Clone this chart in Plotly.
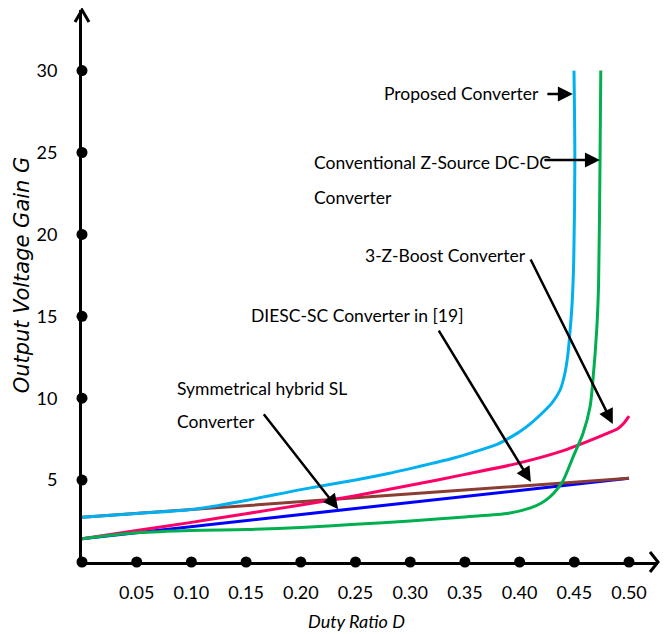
import plotly.graph_objects as go

# ---- data ----
duty_proposed = [0, 0.05, 0.10, 0.15, 0.20, 0.25, 0.28, 0.30, 0.32, 0.34, 0.36, 0.38, 0.39, 0.40, 0.41, 0.42, 0.43, 0.437, 0.441, 0.444, 0.446, 0.448, 0.4495, 0.4505, 0.4497]
gain_proposed = [2.73, 2.96, 3.2, 3.76, 4.42, 5.0, 5.4, 5.7, 6.02, 6.35, 6.75, 7.2, 7.55, 7.95, 8.45, 9.05, 9.75, 10.5, 11.4, 12.6, 14.0, 15.8, 18.5, 24.5, 30]

duty_conv = [0, 0.05, 0.10, 0.15, 0.20, 0.25, 0.30, 0.35, 0.39, 0.41, 0.42, 0.428, 0.435, 0.44, 0.449, 0.458, 0.4644, 0.467, 0.4705, 0.4722, 0.4735, 0.4742]
gain_conv = [1.42, 1.78, 1.93, 1.98, 2.1, 2.3, 2.5, 2.75, 2.97, 3.3, 3.6, 3.99, 4.5, 5.0, 6.43, 7.86, 9.48, 11.1, 14.2, 17.0, 24.5, 30]

duty_3z = [0, 0.05, 0.10, 0.15, 0.20, 0.25, 0.30, 0.35, 0.40, 0.44, 0.46, 0.48, 0.49, 0.495, 0.50]
gain_3z = [1.42, 1.92, 2.42, 2.95, 3.48, 4.05, 4.68, 5.35, 6.05, 6.8, 7.3, 7.85, 8.15, 8.45, 8.9]

duty_diesc = [0, 0.25, 0.50]
gain_diesc = [1.42, 3.27, 5.11]

duty_sym = [0, 0.25, 0.50]
gain_sym = [2.73, 3.92, 5.11]

x_ticks = [0.05, 0.10, 0.15, 0.20, 0.25, 0.30, 0.35, 0.40, 0.45, 0.50]
x_tick_labels = ["0.05", "0.10", "0.15", "0.20", "0.25", "0.30", "0.35", "0.40", "0.45", "0.50"]
y_ticks = [5, 10, 15, 20, 25, 30]
y_tick_labels = ["5", "10", "15", "20", "25", "30"]

FONT = "Lato, Liberation Sans, sans-serif"
FS = 17.5
TFS = 18

fig = go.Figure()

series = [
    (duty_diesc, gain_diesc, "#0000FF", "DIESC-SC Converter in [19]"),
    (duty_sym, gain_sym, "#8B3D33", "Symmetrical hybrid SL Converter"),
    (duty_3z, gain_3z, "#FF0066", "3-Z-Boost Converter"),
    (duty_conv, gain_conv, "#00B050", "Conventional Z-Source DC-DC Converter"),
    (duty_proposed, gain_proposed, "#00B0F0", "Proposed Converter"),
]
for xs, ys, col, name in series:
    fig.add_trace(go.Scatter(x=xs, y=ys, mode="lines", name=name,
                             line=dict(color=col, width=3, shape="spline", smoothing=0.8)))

# tick dots on axes
fig.add_trace(go.Scatter(x=[0] + x_ticks, y=[0] * (len(x_ticks) + 1), mode="markers",
                         marker=dict(color="black", size=11), cliponaxis=False, hoverinfo="skip"))
fig.add_trace(go.Scatter(x=[0] * len(y_ticks), y=y_ticks, mode="markers",
                         marker=dict(color="black", size=11), cliponaxis=False, hoverinfo="skip"))

W, H = 576, 552
shapes = [
    dict(type="path", xref="paper", yref="paper",
         path=f"M {-7/W} {1-12/H} L 0 1 L {7/W} {1-12/H}",
         line=dict(color="black", width=3)),
    dict(type="path", xref="paper", yref="paper",
         path=f"M {1-8/W} {10/H} L 1 0 L {1-8/W} {-10/H}",
         line=dict(color="black", width=3)),
]

def txt(text, x, y, xanchor="left"):
    return dict(text=text, x=x, y=y, xref="x", yref="y", showarrow=False,
                xanchor=xanchor, yanchor="middle", font=dict(family=FONT, size=FS, color="black"))

def arr(x0, y0, x1, y1):
    return dict(text="", x=x1, y=y1, ax=x0, ay=y0, xref="x", yref="y", axref="x", ayref="y",
                showarrow=True, arrowhead=2, arrowsize=1.2, arrowwidth=2.5, arrowcolor="black")

annotations = [
    txt("Proposed Converter", 0.4194, 28.63, "right"),
    arr(0.424, 28.57, 0.4487, 28.57),
    txt("Conventional Z-Source DC-DC", 0.2099, 24.36),
    txt("Converter", 0.2099, 22.28),
    arr(0.4213, 24.54, 0.4734, 24.54),
    txt("3-Z-Boost Converter", 0.4076, 18.74, "right"),
    arr(0.4094, 18.56, 0.4852, 8.42),
    txt("DIESC-SC Converter in [19]", 0.1526, 15.02),
    arr(0.3253, 14.22, 0.4103, 4.88),
    txt("Symmetrical hybrid SL", 0.085, 10.62),
    txt("Converter", 0.085, 8.57),
    arr(0.1651, 9.11, 0.2342, 3.22),
    dict(text="Duty Ratio D", x=0.2505, y=-(621 - 562) / H, xref="x", yref="paper", showarrow=False,
         xanchor="center", yanchor="middle",
         font=dict(family=FONT, size=TFS, color="black", style="italic")),
    dict(text="Output Voltage Gain G", x=(22 - 82) / W, y=17.5, xref="paper", yref="y", showarrow=False,
         textangle=-90, xanchor="center", yanchor="middle",
         font=dict(family="DejaVu Sans", size=21, color="black", style="italic")),
]

# page body has an 8px margin, so the figure is 8px smaller and margins shifted
fig.update_layout(
    width=660, height=626,
    margin=dict(l=74, r=10, t=2, b=72, autoexpand=False),
    paper_bgcolor="white", plot_bgcolor="white",
    showlegend=False,
    shapes=shapes,
    annotations=annotations,
    xaxis=dict(range=[0, 0.5265], showgrid=False, zeroline=False, showline=True,
               linecolor="black", linewidth=3, tickvals=x_ticks, ticktext=x_tick_labels,
               ticks="outside", ticklen=12, tickcolor="rgba(0,0,0,0)", automargin=False,
               tickfont=dict(family=FONT, size=TFS, color="black")),
    yaxis=dict(range=[0, 33.7], showgrid=False, zeroline=False, showline=True,
               linecolor="black", linewidth=3, tickvals=y_ticks, ticktext=y_tick_labels,
               ticks="outside", ticklen=18, tickcolor="rgba(0,0,0,0)", automargin=False,
               tickfont=dict(family=FONT, size=TFS, color="black")),
)

fig.write_html("out.html")
